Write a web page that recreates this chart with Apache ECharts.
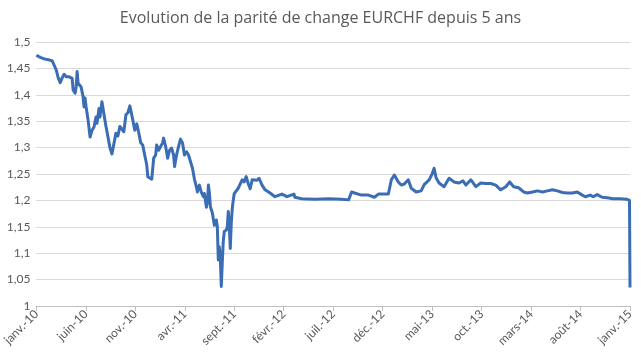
<!DOCTYPE html>
<html>
<head>
<meta charset="utf-8">
<script src="https://cdn.jsdelivr.net/npm/echarts@6/dist/echarts.min.js"></script>
<style>
html,body{margin:0;padding:0;background:#fff;}
#c{width:641px;height:359px;}
</style>
</head>
<body>
<div id="c"></div>
<script>
// Time in months since janv. 2010
var months = [0,0.2,0.4,0.6,0.8,1.0,1.31,1.61,1.81,2.01,2.21,2.41,2.61,2.81,3.02,3.32,3.62,3.72,3.92,4.02,4.12,4.22,4.42,4.52,4.72,4.82,4.92,5.03,5.23,5.43,5.63,5.83,6.03,6.13,6.33,6.43,6.63,6.83,6.93,7.04,7.24,7.44,7.64,7.84,8.04,8.24,8.44,8.64,8.84,9.05,9.25,9.45,9.55,9.75,9.95,10.15,10.35,10.55,10.75,10.95,11.16,11.26,11.46,11.66,11.86,12.06,12.16,12.36,12.56,12.76,12.86,13.07,13.27,13.47,13.67,13.87,13.97,14.17,14.37,14.57,14.77,14.97,15.18,15.38,15.58,15.68,15.78,15.98,16.18,16.28,16.48,16.68,16.88,16.98,17.19,17.29,17.39,17.49,17.59,17.79,17.99,18.19,18.29,18.39,18.49,18.59,18.69,18.79,18.89,18.99,19.2,19.3,19.4,19.5,19.6,19.7,19.8,19.9,20.0,20.2,20.4,20.6,20.8,21.0,21.21,21.41,21.61,21.81,22.01,22.31,22.51,22.81,23.12,23.62,24.12,24.82,25.33,26.03,26.13,26.83,28.14,29.55,30.85,31.56,31.86,32.16,32.86,33.57,34.17,34.57,35.58,35.88,36.18,36.58,36.88,37.19,37.59,37.89,38.39,38.89,39.2,39.7,40.0,40.2,40.4,40.7,41.21,41.71,42.21,42.71,43.12,43.42,43.92,44.42,44.92,45.43,45.93,46.43,46.93,47.44,47.84,48.24,48.74,49.25,49.65,50.15,50.65,51.16,51.66,52.16,52.66,53.17,53.67,54.17,54.67,55.18,55.48,55.98,56.28,56.68,57.19,57.69,58.29,58.99,59.7,59.95,60];
// EUR/CHF rate
var rates = [1.475,1.473,1.471,1.474,1.468,1.466,1.466,1.464,1.462,1.447,1.432,1.423,1.432,1.439,1.434,1.434,1.431,1.409,1.403,1.415,1.444,1.422,1.425,1.415,1.397,1.377,1.394,1.377,1.352,1.32,1.333,1.339,1.358,1.346,1.374,1.358,1.387,1.384,1.352,1.34,1.32,1.30,1.288,1.286,1.327,1.322,1.34,1.343,1.33,1.362,1.366,1.379,1.381,1.352,1.333,1.345,1.328,1.309,1.305,1.286,1.267,1.245,1.248,1.24,1.28,1.286,1.305,1.295,1.302,1.309,1.318,1.302,1.28,1.295,1.299,1.286,1.264,1.286,1.302,1.316,1.309,1.286,1.292,1.286,1.289,1.267,1.261,1.24,1.225,1.216,1.229,1.215,1.207,1.213,1.187,1.197,1.229,1.214,1.188,1.176,1.153,1.163,1.15,1.087,1.112,1.093,1.037,1.081,1.122,1.141,1.144,1.15,1.179,1.15,1.109,1.157,1.185,1.2,1.213,1.21,1.223,1.22,1.239,1.235,1.245,1.232,1.222,1.239,1.242,1.238,1.242,1.229,1.22,1.214,1.207,1.212,1.207,1.212,1.206,1.203,1.202,1.203,1.202,1.201,1.216,1.214,1.21,1.21,1.206,1.212,1.212,1.239,1.248,1.235,1.229,1.231,1.239,1.223,1.216,1.218,1.23,1.239,1.25,1.261,1.243,1.233,1.226,1.242,1.235,1.233,1.237,1.229,1.239,1.226,1.233,1.232,1.232,1.229,1.22,1.226,1.235,1.226,1.224,1.216,1.214,1.216,1.218,1.216,1.218,1.22,1.218,1.215,1.214,1.214,1.216,1.21,1.207,1.21,1.207,1.211,1.206,1.205,1.203,1.203,1.202,1.2,1.035];
var xTickLabels = ['janv.-10','juin-10','nov.-10','avr.-11','sept.-11','févr.-12','juil.-12','déc.-12','mai-13','oct.-13','mars-14','août-14','janv.-15'];
var titleText = 'Evolution de la parité de change EURCHF depuis 5 ans';

var data = months.map(function(m,i){return [m, rates[i]];});
var chart = echarts.init(document.getElementById('c'), null, {renderer:'canvas'});
chart.setOption({
  animation:false,
  title:{text:titleText,left:'center',top:5,
    textStyle:{fontFamily:'Open Sans',fontSize:16,fontWeight:'normal',color:'#595959'}},
  grid:{left:33,right:11,top:42,bottom:53,containLabel:false},
  xAxis:{type:'value',min:0,max:60,interval:5,
    axisLine:{show:true,lineStyle:{color:'#bfbfbf',width:1}},
    axisTick:{show:true,length:5,lineStyle:{color:'#bfbfbf'}},
    splitLine:{show:false},
    axisLabel:{rotate:45,margin:6,color:'#595959',fontFamily:'Lato',fontSize:12,
      showMinLabel:true,showMaxLabel:true,
      formatter:function(v){return xTickLabels[Math.round(v/5)];}}},
  yAxis:{type:'value',min:1,max:1.5,interval:0.05,
    axisLine:{show:false},axisTick:{show:false},
    splitLine:{lineStyle:{color:'#d9d9d9',width:1}},
    axisLabel:{margin:6,color:'#595959',fontFamily:'Lato',fontSize:12,
      formatter:function(v){return String(Math.round(v*100)/100).replace('.',',');}}},
  series:[{type:'line',data:data,showSymbol:false,
    lineStyle:{color:'#3a6db3',width:3,join:'round'}}]
});
</script>
</body>
</html>
